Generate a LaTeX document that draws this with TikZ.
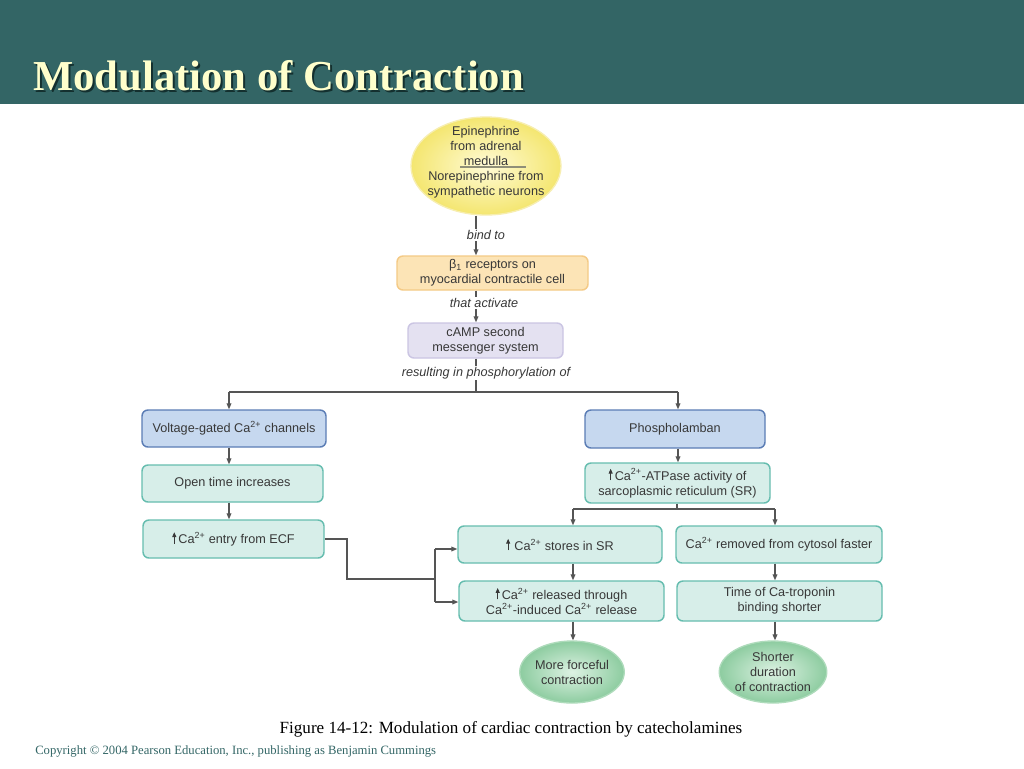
\documentclass[tikz,border=0pt]{standalone}
\usepackage{fontspec}
\setmainfont{Liberation Sans}
\newfontfamily\serifrm{Liberation Serif}
\usetikzlibrary{arrows.meta,shapes.geometric}
\definecolor{banner}{HTML}{336565}
\definecolor{titlec}{HTML}{FFFFCC}
\definecolor{shadowc}{HTML}{14302F}
\definecolor{copyc}{HTML}{336666}
\definecolor{txt}{HTML}{383838}
\definecolor{linec}{HTML}{555555}
\definecolor{bluef}{HTML}{C6D8EF}
\definecolor{blued}{HTML}{5B7DB5}
\definecolor{mintf}{HTML}{D7EEE9}
\definecolor{mintd}{HTML}{66BDAF}
\definecolor{betaf}{HTML}{FCE4B6}
\definecolor{betad}{HTML}{F4CA86}
\definecolor{campf}{HTML}{E4E1F1}
\definecolor{campd}{HTML}{CBC5E3}
\definecolor{yelin}{HTML}{FFFBD6}
\definecolor{yelout}{HTML}{F4E670}
\definecolor{yeld}{HTML}{F7EEB0}
\definecolor{grin}{HTML}{DDF2E3}
\definecolor{grout}{HTML}{8DCCA0}
\definecolor{grd}{HTML}{AEDBBB}
\definecolor{sepc}{HTML}{8F8F78}
\newcommand{\uparrowicon}{\tikz[baseline=0pt]\draw[draw=txt,fill=txt,line width=0.6pt,-{Triangle[length=3.6pt,width=3pt]}] (0pt,0pt) -- (0pt,8.5pt);}
\begin{document}
\begin{tikzpicture}[x=0.75pt,y=-0.75pt,
  conn/.style={draw=linec,line width=0.8pt},
  arr/.style={conn,-{Triangle[length=4.5pt,width=3.6pt]}},
  box/.style={rounded corners=4.5pt,line width=1.1pt,align=center,inner sep=0pt,text=txt,font=\fontsize{9.5}{11.2}\selectfont},
  bluebox/.style={box,fill=bluef,draw=blued},
  mintbox/.style={box,fill=mintf,draw=mintd},
  lbl/.style={fill=white,inner sep=1pt,font=\fontsize{9.5}{11.2}\selectfont\itshape,text=txt},
  etext/.style={align=center,inner sep=0pt,text=txt,font=\fontsize{9.5}{11.2}\selectfont},
]
\fill[white] (0,0) rectangle (1024,768);
\useasboundingbox (0,0) rectangle (1024,768);
\fill[banner] (0,0) rectangle (1024,104);
\node[anchor=base west,inner sep=0pt,font=\serifrm\bfseries\fontsize{32}{38}\selectfont,text=shadowc] (tshadow) at (35,92) {Modulation of Contraction};
\node[anchor=base west,inner sep=0pt,font=\serifrm\bfseries\fontsize{32}{38}\selectfont,text=titlec] (title) at (33,90) {Modulation of Contraction};

% yellow ellipse
\node[ellipse,minimum width=112.5pt,minimum height=73.5pt,inner sep=0pt,inner color=yelin,outer color=yelout,draw=yeld,line width=1pt] (yel) at (486,166) {};
\node[etext] (yt1) at (486,146) {Epinephrine\\from adrenal\\medulla};
\node[etext] (yt2) at (486,184.5) {Norepinephrine from\\sympathetic neurons};
\coordinate (sepl) at (460,167);
\coordinate (sepr) at (526,167);
\draw[draw=sepc,line width=0.8pt] (sepl) -- (sepr);

\node[box,fill=betaf,draw=betad,minimum width=143.25pt,minimum height=25.5pt] (beta) at (492.5,273) {β\textsubscript{1} receptors on\\myocardial contractile cell};
\node[box,fill=campf,draw=campd,minimum width=116.25pt,minimum height=26.25pt] (camp) at (485.5,340.5) {cAMP second\\messenger system};

\node[bluebox,minimum width=138pt,minimum height=27.75pt] (volt) at (234,428.5) {Voltage-gated Ca\textsuperscript{2+} channels};
\node[bluebox,minimum width=135pt,minimum height=28.5pt] (phos) at (675,429) {Phospholamban};
\node[mintbox,minimum width=135.75pt,minimum height=27.75pt] (open) at (232.5,483.5) {Open time increases};
\node[mintbox,minimum width=135.75pt,minimum height=28.5pt] (entry) at (233.5,539) {\uparrowicon\,Ca\textsuperscript{2+} entry from ECF};
\node[mintbox,minimum width=138.75pt,minimum height=30pt] (atp) at (677.5,483) {\uparrowicon\,Ca\textsuperscript{2+}-ATPase activity of\\sarcoplasmic reticulum (SR)};
\node[mintbox,minimum width=153pt,minimum height=27.75pt] (stores) at (560,544.5) {\uparrowicon\,\,Ca\textsuperscript{2+} stores in SR};
\node[mintbox,minimum width=154.5pt,minimum height=27.75pt] (removed) at (779,544.5) {Ca\textsuperscript{2+} removed from cytosol faster};
\node[mintbox,minimum width=153.75pt,minimum height=30pt] (released) at (561.5,601) {\uparrowicon\,Ca\textsuperscript{2+} released through\\Ca\textsuperscript{2+}-induced Ca\textsuperscript{2+} release};
\node[mintbox,minimum width=153.75pt,minimum height=30pt] (time) at (779.5,601) {Time of Ca-troponin\\binding shorter};

\node[ellipse,minimum width=75pt,minimum height=46.5pt,inner sep=0pt,inner color=grin,outer color=grout,draw=grd,line width=1pt,align=center,text=txt,font=\fontsize{9.5}{11.2}\selectfont] (g1) at (572,672) {More forceful\\contraction};
\node[ellipse,minimum width=75pt,minimum height=46.5pt,inner sep=0pt,inner color=grin,outer color=grout,draw=grd,line width=1pt,align=center,text=txt,font=\fontsize{9.5}{11.2}\selectfont] (g2) at (773,672) {Shorter\\duration\\of contraction};

% connectors
\coordinate (ax) at (476,0);
\draw[arr] (yel.south -| ax) -- (beta.north -| ax);
\draw[arr] (beta.south -| ax) -- (camp.north -| ax);
\coordinate (split1) at (476,392);
\coordinate (hl) at (229,392);
\coordinate (hr) at (678,392);
\draw[conn] (camp.south -| ax) -- (split1);
\draw[conn] (hl) -- (hr);
\draw[arr] (hl) -- (volt.north -| hl);
\draw[arr] (hr) -- (phos.north -| hr);
\draw[arr] (volt.south -| hl) -- (open.north -| hl);
\draw[arr] (open.south -| hl) -- (entry.north -| hl);
\draw[arr] (phos.south -| hr) -- (atp.north -| hr);
\coordinate (s2) at (677,509);
\coordinate (sl) at (573,509);
\coordinate (sr) at (775,509);
\draw[conn] (atp.south -| s2) -- (s2);
\draw[conn] (sl) -- (sr);
\draw[arr] (sl) -- (stores.north -| sl);
\draw[arr] (sr) -- (removed.north -| sr);
\draw[arr] (stores.south -| sl) -- (released.north -| sl);
\draw[arr] (removed.south -| sr) -- (time.north -| sr);
\draw[arr] (released.south -| sl) -- (g1.north -| sl);
\draw[arr] (time.south -| sr) -- (g2.north -| sr);
\coordinate (k1) at (347,579);
\coordinate (jx) at (435,579);
\coordinate (jt) at (435,549);
\coordinate (jb) at (435,602);
\draw[conn] (entry.east) -| (k1) -- (jx);
\draw[conn] (jt) -- (jb);
\draw[arr] (jt) -- (stores.west |- jt);
\draw[arr] (jb) -- (released.west |- jb);

% labels on connectors
\node[lbl] (l1) at (486,235) {bind to};
\node[lbl] (l2) at (484,303) {that activate};
\node[lbl] (l3) at (486,373) {resulting in phosphorylation of};

% caption
\node[anchor=base,inner sep=0pt,font=\serifrm\fontsize{12.8}{15}\selectfont,text=black] (cap) at (511,733) {Figure 14-12: Modulation of cardiac contraction by catecholamines};
\node[anchor=base west,inner sep=0pt,font=\serifrm\fontsize{9.5}{11}\selectfont,text=copyc] (copy) at (35,754) {Copyright © 2004 Pearson Education, Inc., publishing as Benjamin Cummings};
\end{tikzpicture}
\end{document}
